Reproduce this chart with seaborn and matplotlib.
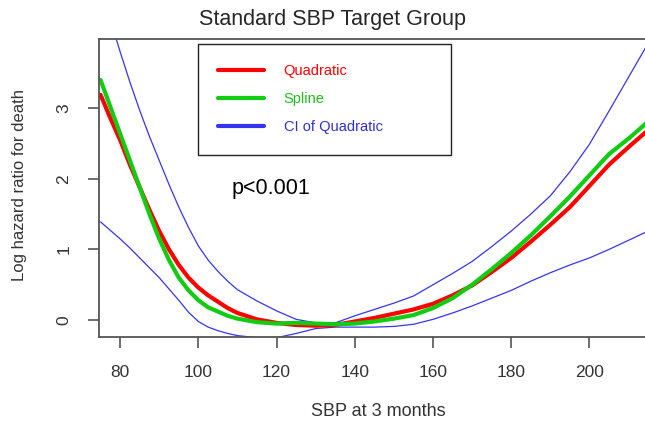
import pandas as pd
import matplotlib.pyplot as plt
import seaborn as sns
from matplotlib.lines import Line2D

# valores (SBP a los 3 meses)
sbp = [75, 77.5, 80, 82.5, 85, 87.5, 90, 92.5, 95, 97.5, 100, 102.5, 105, 107.5, 110,
       115, 120, 125, 130, 135, 140, 145, 150, 155, 160, 165, 170, 175, 180, 185, 190,
       195, 200, 205, 210, 215]
cuadratico = [3.19, 2.86, 2.55, 2.20, 1.88, 1.56, 1.26, 1.00, 0.78, 0.60, 0.46, 0.35, 0.26, 0.17, 0.10,
              0.01, -0.04, -0.07, -0.08, -0.07, -0.02, 0.03, 0.09, 0.15, 0.23, 0.35, 0.49, 0.68,
              0.88, 1.11, 1.35, 1.60, 1.90, 2.20, 2.45, 2.69]
spline = [3.40, 3.02, 2.64, 2.26, 1.88, 1.50, 1.15, 0.85, 0.60, 0.42, 0.28, 0.18, 0.12, 0.06, 0.02,
          -0.03, -0.05, -0.04, -0.05, -0.06, -0.05, -0.02, 0.02, 0.07, 0.17, 0.31, 0.50, 0.72,
          0.95, 1.20, 1.47, 1.75, 2.05, 2.35, 2.57, 2.81]
ic_superior = [4.75, 4.25, 3.80, 3.37, 2.97, 2.60, 2.26, 1.92, 1.60, 1.31, 1.05, 0.85, 0.69, 0.55, 0.43,
               0.27, 0.13, 0.01, -0.04, -0.04, 0.06, 0.15, 0.24, 0.34, 0.50, 0.66, 0.83, 1.04,
               1.26, 1.50, 1.76, 2.10, 2.49, 2.96, 3.44, 3.92]
ic_inferior = [1.39, 1.27, 1.15, 1.02, 0.88, 0.74, 0.60, 0.44, 0.28, 0.11, -0.02, -0.10, -0.15, -0.19, -0.22,
               -0.25, -0.25, -0.19, -0.12, -0.10, -0.10, -0.10, -0.09, -0.06, 0.01, 0.10, 0.20, 0.31,
               0.42, 0.55, 0.67, 0.78, 0.88, 1.00, 1.13, 1.26]

etiquetas = ['Quadratic', 'Spline', 'CI of Quadratic']
rojo, verde, azul = '#ff0000', '#11cc11', '#3535f0'

df = pd.DataFrame({'sbp': sbp, 'cuad': cuadratico, 'spline': spline,
                   'sup': ic_superior, 'inf': ic_inferior})

sns.set_style('white')
plt.rcParams['font.family'] = ['Liberation Sans', 'DejaVu Sans']

fig = plt.figure(figsize=(6.45, 4.24), dpi=100)
ax = fig.add_axes([99 / 645, 87 / 424, 546 / 645, 298 / 424])

# bandas del IC primero, luego las curvas gruesas
sns.lineplot(data=df, x='sbp', y='sup', color=azul, linewidth=0.9, ax=ax, legend=False)
sns.lineplot(data=df, x='sbp', y='inf', color=azul, linewidth=0.9, ax=ax, legend=False)
sns.lineplot(data=df, x='sbp', y='cuad', color=rojo, linewidth=3.0, ax=ax, legend=False,
             solid_joinstyle='round')
sns.lineplot(data=df, x='sbp', y='spline', color=verde, linewidth=3.0, ax=ax, legend=False,
             solid_joinstyle='round')

ax.set_xlim(74.6, 214.2)
ax.set_ylim(-0.24, 3.98)
ax.set_xticks([80, 100, 120, 140, 160, 180, 200])
ax.set_yticks([0, 1, 2, 3])
ax.set_xlabel('')
ax.set_ylabel('')

for lado in ['left', 'bottom', 'top']:
    ax.spines[lado].set_color('#555555')
    ax.spines[lado].set_linewidth(1.3)
ax.spines['right'].set_visible(False)

ax.tick_params(axis='both', direction='out', length=8, width=1.2, color='#555555',
               labelsize=12.5, labelcolor='#333333')
ax.tick_params(axis='x', pad=12, bottom=True)
ax.tick_params(axis='y', pad=12, left=True, labelrotation=90)
for t in ax.get_yticklabels():
    t.set_va('center')

# leyenda con caja amplia como en R
manejadores = [Line2D([], [], color=rojo, linewidth=3),
               Line2D([], [], color=verde, linewidth=3),
               Line2D([], [], color=azul, linewidth=3)]
leg = ax.legend(manejadores, etiquetas, loc='upper left',
                bbox_to_anchor=(198 / 645, 1 - 44 / 424 - 0.01, 253 / 645, 0.01),
                bbox_transform=fig.transFigure, mode='expand',
                fontsize=10.5, labelcolor=[rojo, '#22bb22', '#3030d0'],
                handlelength=3.1, handletextpad=1.37, labelspacing=0.95,
                borderpad=1.4, fancybox=False, framealpha=1, borderaxespad=0)
leg.get_frame().set_edgecolor('#222222')
leg.get_frame().set_linewidth(1.0)

ax.text(0.242, 0.497, 'p<0.001', transform=ax.transAxes, fontsize=15.5,
        ha='left', va='center', color='black')

fig.text(332 / 645, 1 - 20 / 424, 'Standard SBP Target Group', ha='center', va='center', fontsize=15.5)
fig.text(20 / 645, 1 - 185 / 424, 'Log hazard ratio for death', ha='center', va='center',
         rotation=90, fontsize=12, color='#333333')
fig.text(378 / 645, 1 - 411 / 424, 'SBP at 3 months', ha='center', va='center',
         fontsize=13, color='#333333')

fig.savefig('out.png', dpi=100)
